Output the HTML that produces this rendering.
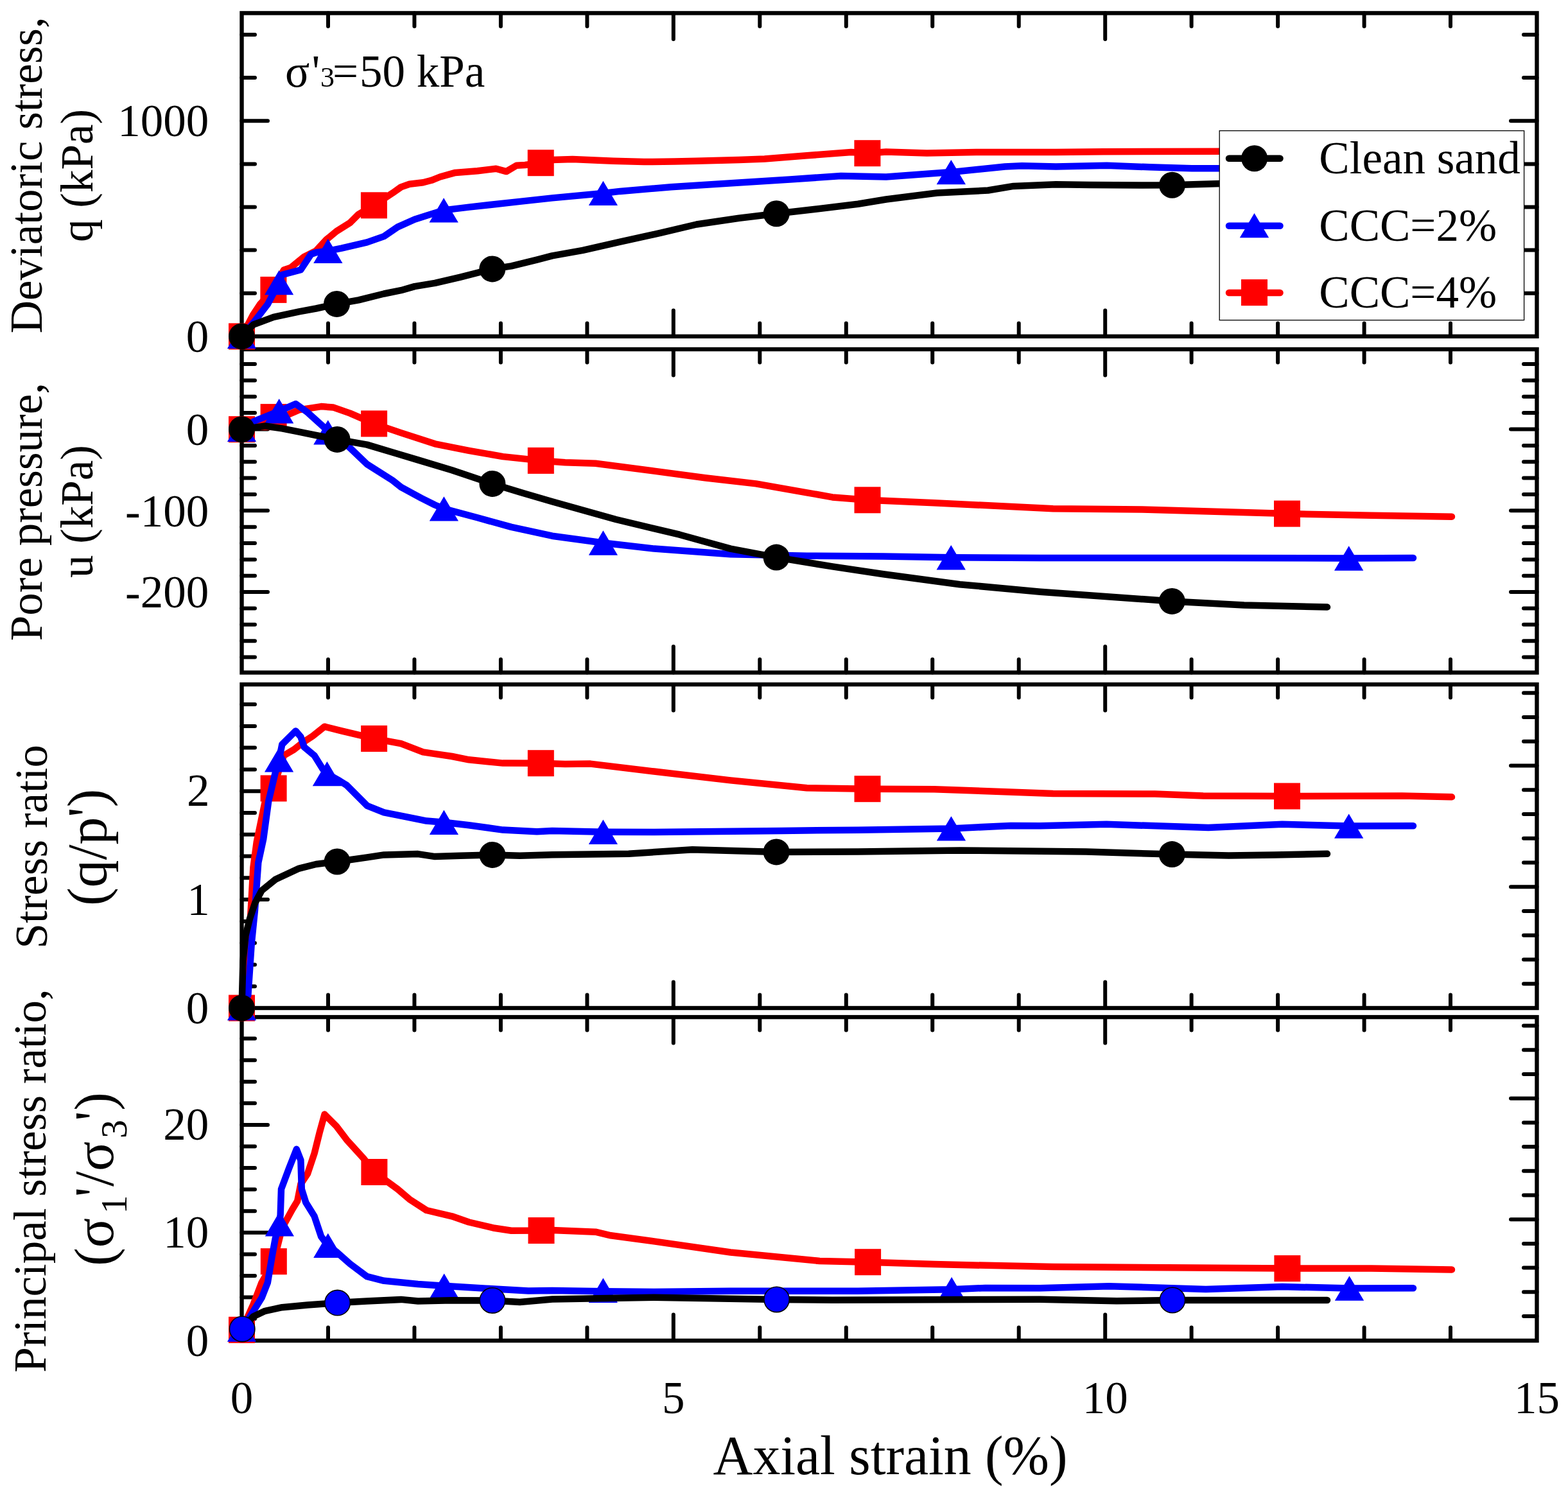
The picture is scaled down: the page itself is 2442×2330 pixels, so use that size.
<!DOCTYPE html>
<html><head><meta charset="utf-8"><title>Axial strain plots</title><style>html,body{margin:0;padding:0;background:#fff;}svg{display:block;}</style></head><body>
<svg width="2442" height="2330" viewBox="0 0 2442 2330"><rect width="2442" height="2330" fill="#fff"/><rect x="376.5" y="20.4" width="2017" height="503.5" fill="none" stroke="#000" stroke-width="6.4"/>
<path d="M511 523.9v-20.5M511 20.4v20.5M645.4 523.9v-20.5M645.4 20.4v20.5M779.9 523.9v-20.5M779.9 20.4v20.5M914.4 523.9v-20.5M914.4 20.4v20.5M1048.8 523.9v-40.5M1048.8 20.4v40.5M1183.3 523.9v-20.5M1183.3 20.4v20.5M1317.8 523.9v-20.5M1317.8 20.4v20.5M1452.2 523.9v-20.5M1452.2 20.4v20.5M1586.7 523.9v-20.5M1586.7 20.4v20.5M1721.2 523.9v-40.5M1721.2 20.4v40.5M1855.6 523.9v-20.5M1855.6 20.4v20.5M1990.1 523.9v-20.5M1990.1 20.4v20.5M2124.6 523.9v-20.5M2124.6 20.4v20.5M2259 523.9v-20.5M2259 20.4v20.5M376.5 456.8h20.5M376.5 389.6h20.5M376.5 322.5h20.5M376.5 255.4h20.5M376.5 188.2h40.5M376.5 121.1h20.5M376.5 54h20.5M2393.5 456.8h-20.5M2393.5 389.6h-20.5M2393.5 322.5h-20.5M2393.5 255.4h-20.5M2393.5 188.2h-40.5M2393.5 121.1h-20.5M2393.5 54h-20.5" stroke="#000" stroke-width="6.0" stroke-linecap="round" fill="none"/>
<rect x="376.5" y="544" width="2017" height="503.5" fill="none" stroke="#000" stroke-width="6.4"/>
<path d="M511 1047.5v-20.5M511 544v20.5M645.4 1047.5v-20.5M645.4 544v20.5M779.9 1047.5v-20.5M779.9 544v20.5M914.4 1047.5v-20.5M914.4 544v20.5M1048.8 1047.5v-40.5M1048.8 544v40.5M1183.3 1047.5v-20.5M1183.3 544v20.5M1317.8 1047.5v-20.5M1317.8 544v20.5M1452.2 1047.5v-20.5M1452.2 544v20.5M1586.7 1047.5v-20.5M1586.7 544v20.5M1721.2 1047.5v-40.5M1721.2 544v40.5M1855.6 1047.5v-20.5M1855.6 544v20.5M1990.1 1047.5v-20.5M1990.1 544v20.5M2124.6 1047.5v-20.5M2124.6 544v20.5M2259 1047.5v-20.5M2259 544v20.5M376.5 1023.5h20.5M376.5 998.2h20.5M376.5 972.8h20.5M376.5 947.5h20.5M376.5 922.1h40.5M376.5 896.7h20.5M376.5 871.4h20.5M376.5 846h20.5M376.5 820.7h20.5M376.5 795.3h40.5M376.5 769.9h20.5M376.5 744.6h20.5M376.5 719.2h20.5M376.5 693.9h20.5M376.5 668.5h40.5M376.5 643.1h20.5M376.5 617.8h20.5M376.5 592.4h20.5M376.5 567.1h20.5M2393.5 1023.5h-20.5M2393.5 998.2h-20.5M2393.5 972.8h-20.5M2393.5 947.5h-20.5M2393.5 922.1h-40.5M2393.5 896.7h-20.5M2393.5 871.4h-20.5M2393.5 846h-20.5M2393.5 820.7h-20.5M2393.5 795.3h-40.5M2393.5 769.9h-20.5M2393.5 744.6h-20.5M2393.5 719.2h-20.5M2393.5 693.9h-20.5M2393.5 668.5h-40.5M2393.5 643.1h-20.5M2393.5 617.8h-20.5M2393.5 592.4h-20.5M2393.5 567.1h-20.5" stroke="#000" stroke-width="6.0" stroke-linecap="round" fill="none"/>
<rect x="376.5" y="1066" width="2017" height="504" fill="none" stroke="#000" stroke-width="6.4"/>
<path d="M511 1570v-20.5M511 1066v20.5M645.4 1570v-20.5M645.4 1066v20.5M779.9 1570v-20.5M779.9 1066v20.5M914.4 1570v-20.5M914.4 1066v20.5M1048.8 1570v-40.5M1048.8 1066v40.5M1183.3 1570v-20.5M1183.3 1066v20.5M1317.8 1570v-20.5M1317.8 1066v20.5M1452.2 1570v-20.5M1452.2 1066v20.5M1586.7 1570v-20.5M1586.7 1066v20.5M1721.2 1570v-40.5M1721.2 1066v40.5M1855.6 1570v-20.5M1855.6 1066v20.5M1990.1 1570v-20.5M1990.1 1066v20.5M2124.6 1570v-20.5M2124.6 1066v20.5M2259 1570v-20.5M2259 1066v20.5M376.5 1536.2h20.5M376.5 1502.4h20.5M376.5 1468.7h20.5M376.5 1434.9h20.5M376.5 1401.1h40.5M376.5 1367.3h20.5M376.5 1333.5h20.5M376.5 1299.8h20.5M376.5 1266h20.5M376.5 1232.2h40.5M376.5 1198.4h20.5M376.5 1164.6h20.5M376.5 1130.9h20.5M376.5 1097.1h20.5M2393.5 1532.2h-20.5M2393.5 1494.5h-20.5M2393.5 1456.8h-20.5M2393.5 1419h-20.5M2393.5 1381.2h-40.5M2393.5 1343.5h-20.5M2393.5 1305.8h-20.5M2393.5 1268h-20.5M2393.5 1230.2h-20.5M2393.5 1192.5h-40.5M2393.5 1154.8h-20.5M2393.5 1117h-20.5M2393.5 1079.2h-20.5" stroke="#000" stroke-width="6.0" stroke-linecap="round" fill="none"/>
<rect x="376.5" y="1584.1" width="2017" height="503.9" fill="none" stroke="#000" stroke-width="6.4"/>
<path d="M511 2088v-20.5M511 1584.1v20.5M645.4 2088v-20.5M645.4 1584.1v20.5M779.9 2088v-20.5M779.9 1584.1v20.5M914.4 2088v-20.5M914.4 1584.1v20.5M1048.8 2088v-40.5M1048.8 1584.1v40.5M1183.3 2088v-20.5M1183.3 1584.1v20.5M1317.8 2088v-20.5M1317.8 1584.1v20.5M1452.2 2088v-20.5M1452.2 1584.1v20.5M1586.7 2088v-20.5M1586.7 1584.1v20.5M1721.2 2088v-40.5M1721.2 1584.1v40.5M1855.6 2088v-20.5M1855.6 1584.1v20.5M1990.1 2088v-20.5M1990.1 1584.1v20.5M2124.6 2088v-20.5M2124.6 1584.1v20.5M2259 2088v-20.5M2259 1584.1v20.5M376.5 2054.1h20.5M376.5 2020.5h20.5M376.5 1987h20.5M376.5 1953.4h20.5M376.5 1919.8h40.5M376.5 1886.2h20.5M376.5 1852.6h20.5M376.5 1819.1h20.5M376.5 1785.5h20.5M376.5 1751.9h40.5M376.5 1718.3h20.5M376.5 1684.7h20.5M376.5 1651.2h20.5M376.5 1617.6h20.5M2393.5 2050h-20.5M2393.5 2012.3h-20.5M2393.5 1974.6h-20.5M2393.5 1936.9h-20.5M2393.5 1899.2h-40.5M2393.5 1861.5h-20.5M2393.5 1823.8h-20.5M2393.5 1786.1h-20.5M2393.5 1748.4h-20.5M2393.5 1710.7h-40.5M2393.5 1673h-20.5M2393.5 1635.3h-20.5M2393.5 1597.6h-20.5" stroke="#000" stroke-width="6.0" stroke-linecap="round" fill="none"/>
<g font-family="'Liberation Serif', 'Times New Roman', serif" font-size="71" fill="#000">
<text x="183.2" y="211.9">1000</text>
<text x="289.7" y="547.8">0</text>
<text x="289.7" y="692.9">0</text>
<text x="195.1" y="819.5">-100</text>
<text x="195.1" y="946.1">-200</text>
<text x="290.9" y="1255.3">2</text>
<text x="291.3" y="1424.5">1</text>
<text x="289.7" y="1593.9">0</text>
<text x="254.2" y="1774.8">20</text>
<text x="254.2" y="1942.7">10</text>
<text x="289.7" y="2111.6">0</text>
<text x="358.8" y="2201.1">0</text>
<text x="1031.1" y="2201.1">5</text>
<text x="1685.7" y="2201.1">10</text>
<text x="2358" y="2201.1">15</text>
<text transform="translate(64.8 519.2) rotate(-90)">Deviatoric stress,</text>
<text transform="translate(143.7 377) rotate(-90)">q (kPa)</text>
<text transform="translate(64.8 998.2) rotate(-90)">Pore pressure,</text>
<text transform="translate(144 900.1) rotate(-90)">u (kPa)</text>
<text transform="translate(73.4 1477.5) rotate(-90)">Stress ratio</text>
<text transform="translate(164.7 1410.7) rotate(-90)" font-size="85.7">(q/p&#39;)</text>
<text transform="translate(70.9 2137.8) rotate(-90)">Principal stress ratio,</text>
<text transform="translate(175.7 1968) rotate(-90)"><tspan x="-3.8" y="0" font-size="85.7">(</tspan><tspan x="24.8" y="0" font-size="85.7">σ</tspan><tspan x="77.5" y="21.5" font-size="58">1</tspan><tspan x="103.7" y="0" font-size="85.7">&#39;</tspan><tspan x="120.1" y="0" font-size="85.7">/</tspan><tspan x="144.1" y="0" font-size="85.7">σ</tspan><tspan x="194.9" y="21.5" font-size="58">3</tspan><tspan x="222.2" y="0" font-size="85.7">&#39;</tspan><tspan x="238.3" y="0" font-size="85.7">)</tspan></text>
<text x="1110.5" y="2295.6" font-size="85.7">Axial strain (%)</text>
<text y="135.2"><tspan x="444" font-size="71">σ</tspan><tspan x="485.6" font-size="71">&#39;</tspan><tspan x="499.1" font-size="44">3</tspan><tspan x="518" font-size="71">=</tspan><tspan x="559.9" font-size="71">50 kPa</tspan></text>
</g>
<polyline points="376.5,523.9 394.4,489.8 405,473.9 425.9,451.4 442,420.5 452.6,417 473.7,399.9 492.2,390.6 508.1,373.4 524,360.2 545.1,347 558.4,333.7 582.4,319.8 611.3,300.7 624.5,291.4 637.7,286.7 658.9,284.3 672.1,280.8 685.3,275.5 709.1,268.9 743.5,266.3 772.6,262.8 788.5,267.1 804.4,257.8 817.6,257 842.2,253.7 860,248.9 891.7,248.1 955.2,250.8 1002.8,252.1 1050.4,251.6 1084.8,250.8 1151,248.9 1190.6,247.6 1256.7,242.3 1325.5,237 1350.9,238.7 1380,236.5 1443.5,238.4 1520.2,237 1644.5,237 1718.6,236.2 1900,235.7 2261,235.5" fill="none" stroke="#ff0000" stroke-width="10.5" stroke-linejoin="round" stroke-linecap="round"/>
<rect x="356" y="503.4" width="41.0" height="41.0" fill="#ff0000"/>
<rect x="405.4" y="430.9" width="41.0" height="41.0" fill="#ff0000"/>
<rect x="561.9" y="299.3" width="41.0" height="41.0" fill="#ff0000"/>
<rect x="821.7" y="233.2" width="41.0" height="41.0" fill="#ff0000"/>
<rect x="1330.4" y="218.2" width="41.0" height="41.0" fill="#ff0000"/>
<rect x="1984" y="215" width="41.0" height="41.0" fill="#ff0000"/>
<polyline points="376.5,523.9 394.4,503 416.9,473.9 434.6,440 439.3,428 468.4,420.2 484.3,396 492.2,393.2 510.8,390.9 531.9,386.6 571.6,377.4 598,368.1 619.2,353.6 645.7,341.7 666.8,335.1 691.1,327.4 730.3,322.6 809.6,313.9 860,308.4 939.4,300.9 965.8,297.9 1045.1,291.3 1151,284.6 1230.3,279.4 1309.7,274.1 1380,275.4 1481.3,268.1 1565.1,259.5 1591.6,258.2 1644.5,259.5 1723.8,257.7 1790,260.3 1856.1,262.2 1900,262.2 2201,262" fill="none" stroke="#0000ff" stroke-width="10.5" stroke-linejoin="round" stroke-linecap="round"/>
<path d="M376.5 504.7L399.1 543.1L353.9 543.1Z" fill="#0000ff"/>
<path d="M434.6 420.9L457.2 459.3L412 459.3Z" fill="#0000ff"/>
<path d="M510.8 371.7L533.5 410.1L488.2 410.1Z" fill="#0000ff"/>
<path d="M691.1 308.2L713.8 346.6L668.5 346.6Z" fill="#0000ff"/>
<path d="M939.4 281.7L962 320.1L916.8 320.1Z" fill="#0000ff"/>
<path d="M1481.3 248.9L1504 287.3L1458.6 287.3Z" fill="#0000ff"/>
<path d="M2100.7 242.8L2123.3 281.2L2078 281.2Z" fill="#0000ff"/>
<polyline points="376.5,523.9 394.4,505.7 426.1,493.8 465.8,485.3 492.2,480.5 524.5,473.4 558.4,467.3 598,457.5 624.5,452.2 645.7,446.1 677.4,440.9 717.1,431.6 766.8,418.9 796.4,414.4 836.1,404.6 860,398.4 907.6,389.9 965.8,376.7 1029.3,362.7 1084.8,349.5 1151,339.7 1209.2,332.7 1270,325.7 1336.2,317.7 1380,310.5 1459.3,300.5 1538.7,296.5 1578.4,289.9 1644.5,287.3 1697.4,288.1 1776.7,288.6 1825.5,288.3 1900,286 2067,284" fill="none" stroke="#000000" stroke-width="10.5" stroke-linejoin="round" stroke-linecap="round"/>
<circle cx="376.5" cy="523.9" r="20.5" fill="#000000"/>
<circle cx="524.5" cy="473.4" r="20.5" fill="#000000"/>
<circle cx="766.8" cy="418.9" r="20.5" fill="#000000"/>
<circle cx="1209.2" cy="332.7" r="20.5" fill="#000000"/>
<circle cx="1825.5" cy="288.3" r="20.5" fill="#000000"/>
<polyline points="376.5,668.7 426.1,649.6 447.3,646.3 465.8,638.4 500.2,633.1 518.7,634.4 545.1,643.6 582.6,659.9 624.5,674.1 677.4,691.3 730.3,701.8 783.2,711.1 842.3,717.4 880,720.3 927.4,721.7 1018.7,733.6 1098,744.3 1177.4,753.4 1256.7,767.3 1296.4,774.4 1351,778.8 1455.1,783.2 1640,792.3 1778.7,793.6 2004.5,800.1 2135.8,802.7 2261,804.7" fill="none" stroke="#ff0000" stroke-width="10.5" stroke-linejoin="round" stroke-linecap="round"/>
<rect x="356" y="648.2" width="41.0" height="41.0" fill="#ff0000"/>
<rect x="405.6" y="629.1" width="41.0" height="41.0" fill="#ff0000"/>
<rect x="562.1" y="639.4" width="41.0" height="41.0" fill="#ff0000"/>
<rect x="821.8" y="696.9" width="41.0" height="41.0" fill="#ff0000"/>
<rect x="1330.5" y="758.3" width="41.0" height="41.0" fill="#ff0000"/>
<rect x="1984" y="779.6" width="41.0" height="41.0" fill="#ff0000"/>
<polyline points="376.5,668.7 397,655.5 434.7,640.3 460.5,629.1 479,642.3 510.8,671 539.9,692.6 571.6,723 611.3,748.1 624.5,758.7 656.2,775.9 677.4,786.5 691.4,792.4 743.5,806.3 796.4,820.9 860,834.7 939.4,845.5 1018.7,854.6 1137.7,863.3 1256.7,865.7 1375.8,866.5 1481.2,868.3 1620,869 1897.7,869 2100.7,869.5 2201,869" fill="none" stroke="#0000ff" stroke-width="10.5" stroke-linejoin="round" stroke-linecap="round"/>
<path d="M376.5 649.5L399.1 687.9L353.9 687.9Z" fill="#0000ff"/>
<path d="M434.7 621.1L457.3 659.5L412.1 659.5Z" fill="#0000ff"/>
<path d="M510.8 654.2L533.5 692.6L488.2 692.6Z" fill="#0000ff"/>
<path d="M691.4 773.2L714 811.6L668.8 811.6Z" fill="#0000ff"/>
<path d="M939.4 826.3L962 864.7L916.8 864.7Z" fill="#0000ff"/>
<path d="M1481.2 849.1L1503.9 887.5L1458.5 887.5Z" fill="#0000ff"/>
<path d="M2100.7 850.3L2123.3 888.7L2078 888.7Z" fill="#0000ff"/>
<polyline points="376.5,668.7 412.9,663.5 439.3,667.4 465.8,672.7 492.2,678 525.1,684.4 571.6,692.6 611.3,704.5 651,716.4 703.8,732.3 766.9,753.4 809.6,766.6 860,781.2 959.2,809 1058.4,832.7 1137.7,854.6 1209.1,868.1 1296.4,882.4 1375.8,894.3 1494.8,910.2 1620,921.7 1825.3,936.4 1937.4,942.4 2067,945.5" fill="none" stroke="#000000" stroke-width="10.5" stroke-linejoin="round" stroke-linecap="round"/>
<circle cx="376.5" cy="668.7" r="20.5" fill="#000000"/>
<circle cx="525.1" cy="684.4" r="20.5" fill="#000000"/>
<circle cx="766.9" cy="753.4" r="20.5" fill="#000000"/>
<circle cx="1209.1" cy="868.1" r="20.5" fill="#000000"/>
<circle cx="1825.3" cy="936.4" r="20.5" fill="#000000"/>
<polyline points="376.5,1570 387.8,1470.3 394.4,1351.3 399.7,1311.6 412.9,1248.1 426.1,1227.9 434.1,1200.5 442,1176.7 457.9,1167.4 471.1,1156.9 487,1146.3 505.5,1131.7 531.9,1138.4 582.6,1150.4 624.5,1158.2 658.9,1171.4 677.4,1174.1 703.8,1178 730.3,1183.3 783.2,1188.6 842.3,1188.7 880,1189.9 919.5,1189.6 1018.7,1201.5 1137.7,1215.4 1256.7,1227.3 1351,1228.7 1455.1,1229.3 1640,1236 1798.5,1236.6 1873.9,1239.4 2004.5,1240 2183.4,1239.4 2261,1241.3" fill="none" stroke="#ff0000" stroke-width="10.5" stroke-linejoin="round" stroke-linecap="round"/>
<rect x="356" y="1549.5" width="41.0" height="41.0" fill="#ff0000"/>
<rect x="405.6" y="1207.4" width="41.0" height="41.0" fill="#ff0000"/>
<rect x="562.1" y="1129.9" width="41.0" height="41.0" fill="#ff0000"/>
<rect x="821.8" y="1168.2" width="41.0" height="41.0" fill="#ff0000"/>
<rect x="1330.5" y="1208.2" width="41.0" height="41.0" fill="#ff0000"/>
<rect x="1984" y="1219.5" width="41.0" height="41.0" fill="#ff0000"/>
<polyline points="376.5,1570 386.4,1549.6 391.7,1470.3 397,1417.4 402.3,1343.3 410.3,1306.3 418.2,1248.1 428.8,1203.2 434.6,1183 439.3,1159.5 460.5,1138.4 468.4,1147.6 473.7,1163.5 489.6,1176.7 502.8,1197.9 509.4,1205 529.3,1216.4 539.9,1223 571.6,1254.8 598,1265.3 624.5,1270.6 664.2,1278.6 691.4,1280.8 730.3,1285.2 783.2,1292.6 836.1,1295.2 860,1293.9 939.4,1295.7 1018.7,1295.9 1217.1,1293.9 1336.1,1292.7 1481.4,1290.4 1574.2,1286 1620,1286.2 1723.2,1283.8 1881.9,1289 1996.9,1283.8 2100.7,1286.6 2201,1286.2" fill="none" stroke="#0000ff" stroke-width="10.5" stroke-linejoin="round" stroke-linecap="round"/>
<path d="M376.5 1550.8L399.1 1589.2L353.9 1589.2Z" fill="#0000ff"/>
<path d="M434.6 1164.2L457.2 1202.6L412 1202.6Z" fill="#0000ff"/>
<path d="M509.4 1185.9L532 1224.3L486.8 1224.3Z" fill="#0000ff"/>
<path d="M691.4 1261.6L714 1300L668.8 1300Z" fill="#0000ff"/>
<path d="M939.4 1276.5L962 1314.9L916.8 1314.9Z" fill="#0000ff"/>
<path d="M1481.4 1271.2L1504.1 1309.6L1458.8 1309.6Z" fill="#0000ff"/>
<path d="M2100.7 1267.4L2123.3 1305.8L2078 1305.8Z" fill="#0000ff"/>
<polyline points="376.5,1570 378.5,1496.7 382.5,1457.1 389.1,1430.6 397,1406.8 407.6,1387 428.8,1369.8 465.8,1352.6 492.2,1346 525.1,1342 571.6,1335.4 598,1331.4 651,1330.1 677.4,1334.1 717.1,1332.8 766.9,1331.4 809.6,1332.8 860,1331.2 979,1329.7 1078.3,1323.3 1209.1,1326.9 1336.1,1326.5 1494.8,1324.5 1620,1325.8 1691.4,1326.6 1825.3,1330.6 1913.6,1332.6 1985,1331.4 2067,1329.8" fill="none" stroke="#000000" stroke-width="10.5" stroke-linejoin="round" stroke-linecap="round"/>
<circle cx="376.5" cy="1570" r="20.5" fill="#000000"/>
<circle cx="525.1" cy="1342" r="20.5" fill="#000000"/>
<circle cx="766.9" cy="1331.4" r="20.5" fill="#000000"/>
<circle cx="1209.1" cy="1326.9" r="20.5" fill="#000000"/>
<circle cx="1825.3" cy="1330.6" r="20.5" fill="#000000"/>
<polyline points="377.2,2070.1 394.4,2031.8 407.6,1997.5 426.3,1964.7 439.3,1912.8 455.2,1883.7 463.2,1870.5 468.4,1844 479,1828.1 489.6,1796.4 497.5,1764.7 505.5,1735.6 524,1754.1 539.9,1775.2 566.3,1804.3 582.9,1825.5 619.2,1852 637.7,1867.8 664.2,1885 703.8,1894.3 730.3,1903.5 770,1912.8 796.4,1916.8 843,1916.5 860,1916 927.4,1918.7 951.3,1924.3 1018.7,1933.4 1137.7,1950.5 1276.6,1964 1351.6,1965.7 1455.1,1969.1 1640,1973.1 1858.1,1974.6 2004.9,1975.6 2135.8,1975.4 2261,1977.4" fill="none" stroke="#ff0000" stroke-width="10.5" stroke-linejoin="round" stroke-linecap="round"/>
<rect x="356" y="2050.8" width="41.0" height="41.0" fill="#ff0000"/>
<rect x="405.8" y="1944.2" width="41.0" height="41.0" fill="#ff0000"/>
<rect x="562.4" y="1805" width="41.0" height="41.0" fill="#ff0000"/>
<rect x="822.5" y="1896" width="41.0" height="41.0" fill="#ff0000"/>
<rect x="1331.1" y="1945.2" width="41.0" height="41.0" fill="#ff0000"/>
<rect x="1984.4" y="1955.1" width="41.0" height="41.0" fill="#ff0000"/>
<polyline points="377.2,2070.1 394.4,2042.4 407.6,2021.3 416.9,1997.5 423.5,1957.8 428.8,1928.7 435.4,1906 436.7,1891.6 438,1852 449.9,1820.2 461.8,1789.8 468.4,1807 469.8,1852 476.4,1873.1 489.6,1894.3 500.2,1926 510.8,1940 524,1949.8 545.1,1968.4 571.6,1988.2 598,1994.8 651,2000 691.7,2002.7 756.7,2006.7 822.9,2010.6 860,2010 939.4,2011.3 1018.7,2012 1137.7,2010.8 1336.1,2010.8 1482.1,2008.2 1534.6,2006 1620,2006.3 1727.1,2003.2 1877.9,2007.9 1996.9,2004 2101.5,2006.5 2201,2006.3" fill="none" stroke="#0000ff" stroke-width="10.5" stroke-linejoin="round" stroke-linecap="round"/>
<path d="M376.5 2051.4L399.1 2089.8L353.9 2089.8Z" fill="#0000ff"/>
<path d="M435.4 1887L458 1925.4L412.8 1925.4Z" fill="#0000ff"/>
<path d="M510.8 1920.7L533.5 1959.1L488.2 1959.1Z" fill="#0000ff"/>
<path d="M691.7 1983.5L714.4 2021.9L669.1 2021.9Z" fill="#0000ff"/>
<path d="M939.4 1990.6L962 2029L916.8 2029Z" fill="#0000ff"/>
<path d="M1482.1 1989L1504.8 2027.4L1459.4 2027.4Z" fill="#0000ff"/>
<path d="M2101.5 1987.3L2124.2 2025.7L2078.8 2025.7Z" fill="#0000ff"/>
<polyline points="377.2,2070.1 394.4,2050.5 412.9,2041.8 439.3,2036.2 479,2032.4 525.6,2029.1 571.6,2026.5 624.5,2023.9 651,2026.5 703.8,2025.2 766.9,2025.4 809.6,2027.9 860,2023.5 1018.7,2020.7 1209.6,2023.9 1296.4,2024.7 1534.6,2023.9 1620,2023.8 1739,2026.2 1825.9,2025 2067,2025" fill="none" stroke="#000000" stroke-width="10.5" stroke-linejoin="round" stroke-linecap="round"/>
<circle cx="377.2" cy="2069.9" r="19.7" fill="#0000ff" stroke="#000000" stroke-width="1.6"/>
<circle cx="525.6" cy="2029.1" r="19.7" fill="#0000ff" stroke="#000000" stroke-width="1.6"/>
<circle cx="766.9" cy="2025.4" r="19.7" fill="#0000ff" stroke="#000000" stroke-width="1.6"/>
<circle cx="1209.6" cy="2023.9" r="19.7" fill="#0000ff" stroke="#000000" stroke-width="1.6"/>
<circle cx="1825.9" cy="2025" r="19.7" fill="#0000ff" stroke="#000000" stroke-width="1.6"/>
<rect x="1899.2" y="203.6" width="474.4" height="295" fill="#fff" stroke="#000" stroke-width="1.3"/>
<line x1="1914" y1="246.7" x2="1993.5" y2="246.7" stroke="#000000" stroke-width="10.5" stroke-linecap="round"/>
<circle cx="1953.6" cy="246.7" r="20.5" fill="#000000"/>
<text x="2054.3" y="270.2" font-family="'Liberation Serif', 'Times New Roman', serif" font-size="71">Clean sand</text>
<line x1="1914" y1="351.7" x2="1993.5" y2="351.7" stroke="#0000ff" stroke-width="10.5" stroke-linecap="round"/>
<path d="M1953.5 331.9L1976.2 370.3L1930.8 370.3Z" fill="#0000ff"/>
<text x="2054.3" y="374.8" font-family="'Liberation Serif', 'Times New Roman', serif" font-size="71">CCC=2%</text>
<line x1="1914" y1="456" x2="1993.5" y2="456" stroke="#ff0000" stroke-width="10.5" stroke-linecap="round"/>
<rect x="1933" y="435.1" width="41.0" height="41.0" fill="#ff0000"/>
<text x="2054.3" y="479" font-family="'Liberation Serif', 'Times New Roman', serif" font-size="71">CCC=4%</text></svg>
</body></html>
